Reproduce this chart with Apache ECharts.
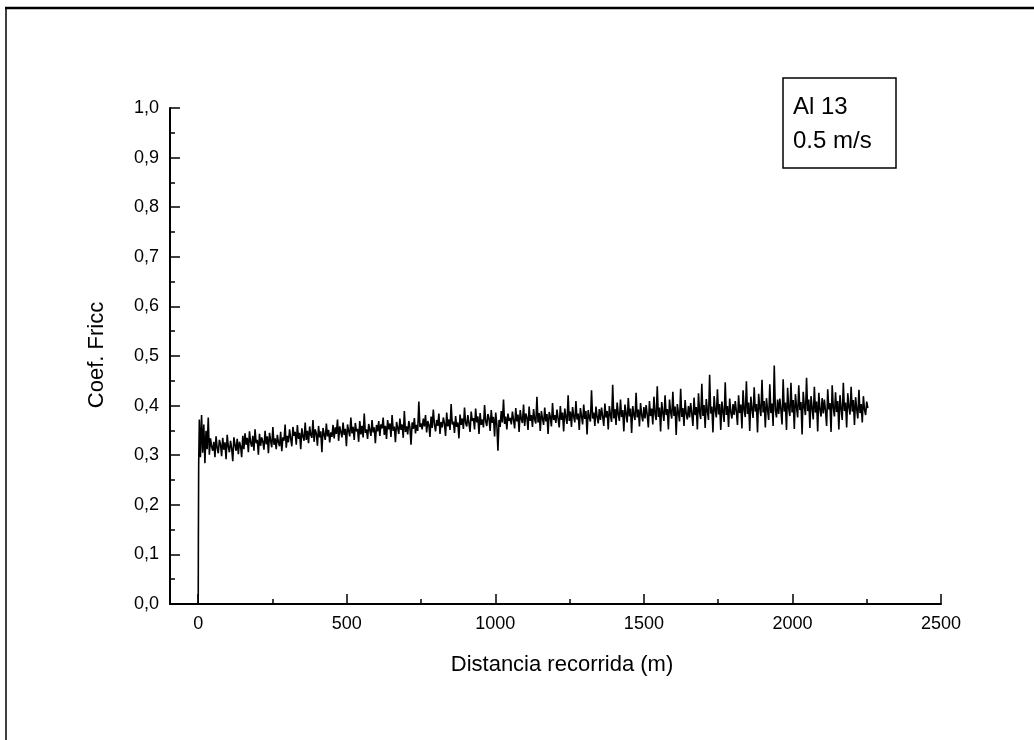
<!DOCTYPE html>
<html>
<head>
<meta charset="utf-8">
<script src="https://cdn.jsdelivr.net/npm/echarts@6/dist/echarts.min.js"></script>
<style>html,body{margin:0;padding:0;background:#fff;}#chart{width:1034px;height:740px;}</style>
</head>
<body>
<div id="chart"></div>
<script>
// Start-up transient: [distance (m), coefficient]
const startPoints = [[-20, 0], [0, 0], [0.5, 0.13], [1.5, 0.28]];
// Sampled friction coefficient, first sample at 3.75 m, then every 3.75 m
const firstDistance = 3.75;
const sampleStep = 3.75;
const frictionValues = [
  0.372,0.296,0.381,0.305,0.362,0.284,0.349,0.312,0.376,0.301,0.334,0.318,0.309,0.327,0.296,0.338,0.315,0.304,0.331,0.322,
  0.298,0.335,0.311,0.326,0.292,0.341,0.317,0.306,0.329,0.314,0.288,0.336,0.321,0.309,0.333,0.302,0.327,0.318,0.296,0.339,
  0.312,0.344,0.321,0.335,0.306,0.348,0.326,0.317,0.339,0.309,0.352,0.324,0.331,0.301,0.343,0.319,0.336,0.327,0.311,0.349,
  0.322,0.338,0.304,0.345,0.329,0.316,0.357,0.321,0.334,0.312,0.341,0.326,0.318,0.347,0.308,0.336,0.329,0.362,0.315,0.339,
  0.326,0.352,0.334,0.318,0.357,0.339,0.347,0.321,0.361,0.333,0.345,0.312,0.354,0.338,0.329,0.366,0.331,0.349,0.324,0.358,
  0.341,0.335,0.371,0.327,0.352,0.344,0.319,0.359,0.336,0.348,0.306,0.355,0.342,0.331,0.364,0.338,0.351,0.326,0.346,0.337,
  0.361,0.334,0.356,0.343,0.372,0.329,0.358,0.347,0.336,0.366,0.341,0.353,0.318,0.362,0.349,0.338,0.376,0.344,0.357,0.331,
  0.365,0.348,0.353,0.327,0.369,0.342,0.359,0.336,0.384,0.345,0.352,0.333,0.363,0.351,0.339,0.371,0.346,0.356,0.324,0.361,
  0.348,0.369,0.339,0.362,0.354,0.376,0.341,0.359,0.333,0.371,0.352,0.364,0.337,0.381,0.349,0.358,0.326,0.367,0.355,0.343,
  0.374,0.351,0.362,0.335,0.389,0.347,0.358,0.342,0.369,0.356,0.321,0.366,0.353,0.375,0.344,0.361,0.349,0.408,0.357,0.364,
  0.352,0.374,0.358,0.381,0.346,0.369,0.361,0.337,0.378,0.355,0.392,0.362,0.348,0.371,0.359,0.384,0.343,0.367,0.356,0.376,
  0.364,0.339,0.386,0.358,0.372,0.351,0.403,0.362,0.368,0.345,0.379,0.357,0.366,0.334,0.382,0.361,0.374,0.353,0.396,0.365,
  0.358,0.381,0.364,0.347,0.388,0.369,0.375,0.352,0.394,0.366,0.378,0.343,0.385,0.361,0.372,0.356,0.401,0.368,0.359,0.383,
  0.374,0.349,0.391,0.365,0.377,0.338,0.386,0.362,0.309,0.371,0.357,0.389,0.366,0.412,0.363,0.378,0.352,0.384,0.369,0.375,
  0.362,0.388,0.371,0.354,0.395,0.368,0.382,0.347,0.391,0.373,0.365,0.402,0.359,0.384,0.376,0.351,0.398,0.369,0.381,0.357,
  0.393,0.372,0.364,0.418,0.366,0.385,0.349,0.389,0.374,0.361,0.396,0.368,0.383,0.343,0.387,0.377,0.358,0.405,0.371,0.381,
  0.365,0.392,0.374,0.356,0.399,0.371,0.386,0.348,0.394,0.376,0.363,0.421,0.369,0.388,0.357,0.397,0.378,0.366,0.409,0.372,
  0.384,0.351,0.395,0.379,0.362,0.402,0.373,0.389,0.342,0.391,0.376,0.368,0.431,0.374,0.386,0.359,0.398,0.377,0.364,0.393,
  0.371,0.396,0.378,0.359,0.404,0.376,0.389,0.352,0.399,0.381,0.367,0.442,0.374,0.393,0.361,0.406,0.383,0.369,0.412,0.377,
  0.391,0.348,0.402,0.384,0.366,0.415,0.378,0.394,0.345,0.399,0.382,0.371,0.426,0.376,0.392,0.358,0.405,0.381,0.368,0.397,
  0.374,0.401,0.381,0.356,0.409,0.379,0.394,0.362,0.418,0.383,0.371,0.439,0.377,0.396,0.348,0.407,0.386,0.369,0.421,0.381,
  0.393,0.352,0.412,0.387,0.374,0.428,0.379,0.398,0.341,0.403,0.385,0.368,0.434,0.377,0.395,0.359,0.411,0.384,0.372,0.399,
  0.376,0.405,0.384,0.359,0.416,0.381,0.397,0.352,0.425,0.386,0.373,0.444,0.379,0.401,0.355,0.413,0.389,0.371,0.462,0.384,
  0.398,0.346,0.419,0.391,0.376,0.433,0.382,0.403,0.351,0.408,0.388,0.367,0.447,0.381,0.399,0.357,0.414,0.387,0.374,0.403,
  0.381,0.409,0.388,0.361,0.421,0.385,0.402,0.354,0.431,0.391,0.377,0.449,0.383,0.406,0.349,0.418,0.393,0.375,0.437,0.388,
  0.403,0.346,0.424,0.395,0.379,0.452,0.386,0.409,0.356,0.415,0.392,0.371,0.443,0.385,0.404,0.359,0.481,0.391,0.376,0.412,
  0.383,0.414,0.391,0.362,0.453,0.388,0.406,0.351,0.436,0.394,0.379,0.446,0.386,0.411,0.353,0.423,0.397,0.376,0.441,0.391,
  0.407,0.342,0.428,0.398,0.381,0.456,0.389,0.412,0.355,0.419,0.395,0.372,0.438,0.386,0.408,0.348,0.426,0.393,0.378,0.415,
  0.384,0.412,0.389,0.359,0.433,0.392,0.405,0.347,0.441,0.396,0.378,0.427,0.387,0.409,0.352,0.421,0.394,0.371,0.446,0.389,
  0.406,0.356,0.425,0.397,0.382,0.438,0.388,0.411,0.361,0.417,0.393,0.374,0.432,0.385,0.403,0.366,0.419,0.392,0.381,0.408,
  0.395
];
const xMajorTicks = [0, 500, 1000, 1500, 2000, 2500];
const xMinorTicks = [250, 750, 1250, 1750, 2250];
const xAxisTitle = 'Distancia recorrida (m)';
const yAxisTitle = 'Coef. Fricc';
const legendLines = ['Al 13', '0.5 m/s'];

const seriesData = startPoints.concat(
  frictionValues.map((v, i) => [firstDistance + i * sampleStep, v])
);

const FONT = '"Liberation Sans", Arial, sans-serif';
const INK = '#000';

const chart = echarts.init(document.getElementById('chart'), null, { renderer: 'canvas' });
chart.setOption({
  animation: false,
  backgroundColor: '#fff',
  grid: { left: 170, right: 93, top: 108, bottom: 136, containLabel: false },
  xAxis: [
    {
      type: 'value', min: -95, max: 2500,
      axisLine: { show: true, onZero: false, lineStyle: { color: INK, width: 2 } },
      axisTick: { show: true, inside: true, length: 10, customValues: xMajorTicks, lineStyle: { color: INK, width: 1.5 } },
      axisLabel: { show: true, customValues: xMajorTicks, margin: 11, fontFamily: FONT, fontSize: 18, color: INK,
                   formatter: v => String(v) },
      splitLine: { show: false }
    },
    {
      type: 'value', min: -95, max: 2500, position: 'bottom',
      axisLine: { show: false },
      axisTick: { show: true, inside: true, length: 5, customValues: xMinorTicks, lineStyle: { color: INK, width: 1.5 } },
      axisLabel: { show: false },
      splitLine: { show: false }
    }
  ],
  yAxis: {
    type: 'value', min: 0, max: 1, interval: 0.1,
    axisLine: { show: true, onZero: false, lineStyle: { color: INK, width: 2 } },
    axisTick: { show: true, inside: true, length: 10, lineStyle: { color: INK, width: 1.5 } },
    minorTick: { show: true, splitNumber: 2, length: 5, lineStyle: { color: INK, width: 1.5 } },
    axisLabel: {
      margin: 11, fontFamily: FONT, fontSize: 18, color: INK,
      formatter: v => v.toFixed(1).replace('.', ',')
    },
    splitLine: { show: false }
  },
  series: [{
    type: 'line',
    data: seriesData,
    showSymbol: false,
    symbol: 'none',
    lineStyle: { color: '#000', width: 1.6 },
    clip: true
  }],
  graphic: [
    { type: 'line', shape: { x1: 5, y1: 8, x2: 1034, y2: 8 }, style: { stroke: '#000', lineWidth: 2.5 } },
    { type: 'line', shape: { x1: 6, y1: 8, x2: 6, y2: 740 }, style: { stroke: '#000', lineWidth: 1.5 } },
    { type: 'rect', shape: { x: 783, y: 78, width: 113, height: 90 }, style: { fill: '#fff', stroke: '#000', lineWidth: 1.5 } },
    { type: 'text', x: 793, y: 107, style: { text: legendLines[0], font: '24px ' + FONT, fill: INK, verticalAlign: 'middle', align: 'left' } },
    { type: 'text', x: 793, y: 141, style: { text: legendLines[1], font: '24px ' + FONT, fill: INK, verticalAlign: 'middle', align: 'left' } },
    { type: 'text', x: 562, y: 665, style: { text: xAxisTitle, font: '22px ' + FONT, fill: INK, verticalAlign: 'middle', align: 'center' } },
    { type: 'text', x: 97, y: 355, rotation: Math.PI / 2, style: { text: yAxisTitle, font: '22px ' + FONT, fill: INK, verticalAlign: 'middle', align: 'center' } }
  ]
});
</script>
</body>
</html>
